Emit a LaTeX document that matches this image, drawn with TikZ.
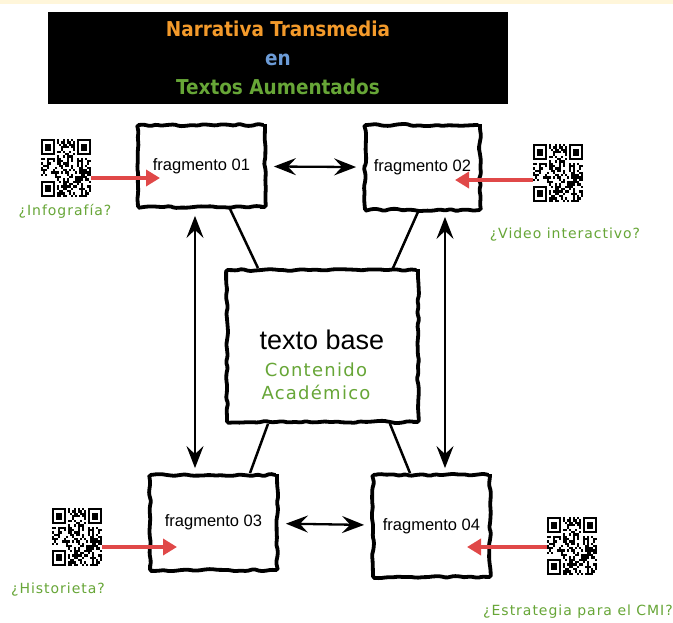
\documentclass[tikz,border=0pt]{standalone}
\usepackage{fontspec}
\setmainfont{Liberation Sans}
\newfontfamily\titlefont{DejaVu Sans Condensed}
\newfontfamily\notefont{DejaVu Sans}[LetterSpace=7]
\usetikzlibrary{arrows.meta,decorations.pathmorphing}

\definecolor{torange}{HTML}{F39A2B}
\definecolor{tblue}{HTML}{6C9BD6}
\definecolor{tgreen}{HTML}{67A637}
\definecolor{qrred}{HTML}{E04848}
\definecolor{cream}{HTML}{FFF6DA}

% one module of the qr pattern
\def\qrw{2.0pt}
\def\qrh{2.32pt}
\newcommand\qrcell[5]{\fill[#5] ([xshift=(#1)*\qrw,yshift=-(#2)*\qrh]path picture bounding box.north west) rectangle ++(#3*\qrw,-#4*\qrh);}

\tikzset{
  sketch/.style={draw, fill=white, line width=3.8pt, rounded corners=1.5pt,
    decorate, decoration={random steps, segment length=6pt, amplitude=1.2pt},
    font=\fontsize{16.5}{19}\selectfont},
  dbl/.style={line width=2.3pt, {Stealth[length=22pt,width=17pt,inset=8pt]}-{Stealth[length=22pt,width=17pt,inset=8pt]}},
  qrarrow/.style={draw=qrred, line width=4.5pt, -{Triangle[length=14pt,width=16pt]}},
  qrcode/.style={minimum width=50pt, minimum height=58pt, inner sep=0pt,
    path picture={
      \pgfmathsetseed{4242}
      \foreach \i in {0,...,24}{\foreach \j in {0,...,24}{
        \pgfmathrandominteger{\r}{0}{1}
        \ifnum\r=1 \qrcell{\i}{\j}{1}{1}{black}\fi}}
      \foreach \a/\b/\c/\d in {0/0/0/0,18/0/17/0,0/18/0/17}{
        \qrcell{\c}{\d}{8}{8}{white}
        \qrcell{\a}{\b}{7}{7}{black}
        \qrcell{\a+1}{\b+1}{5}{5}{white}
        \qrcell{\a+2}{\b+2}{3}{3}{black}}
    }},
  note/.style={text=tgreen, font=\notefont\fontsize{14}{16}\selectfont},
}

\begin{document}
\begin{tikzpicture}[x=1pt,y=-1pt]
  \useasboundingbox (0,0) rectangle (673,623);
  \fill[white] (0,0) rectangle (673,623);
  \fill[cream] (0,0) rectangle (673,4);

  % title
  \node[fill=black, minimum width=460pt, minimum height=92pt, align=center,
    font=\titlefont\bfseries\fontsize{20.5}{29}\selectfont] (title) at (278,58)
    {\textcolor{torange}{Narrativa Transmedia}\\\textcolor{tblue}{en}\\\textcolor{tgreen}{Textos Aumentados}};

  % boxes
  \node[sketch, minimum width=127pt, minimum height=82pt] (frag01) at (201.5,166) {fragmento 01};
  \node[sketch, minimum width=115pt, minimum height=85pt] (frag02) at (422.5,167.5) {fragmento 02};
  \node[sketch, minimum width=191pt, minimum height=152pt] (base) at (322.5,346) {};
  \node[sketch, minimum width=127pt, minimum height=95pt] (frag03) at (213.5,522.5) {fragmento 03};
  \node[sketch, minimum width=117pt, minimum height=102pt] (frag04) at (431.5,526) {fragmento 04};

  \node[font=\fontsize{27}{30}\selectfont] (basetitle) at (322,340) {texto base};
  \node[align=center, text=tgreen, font=\notefont\fontsize{18}{23}\selectfont] (basenote) at (316,381) {Contenido\\Académico};

  % links
  \draw[line width=2.5pt] ([xshift=28.5pt]frag01.south) -- ([xshift=-64.5pt]base.north);
  \draw[line width=2.5pt] ([xshift=-4.5pt]frag02.south) -- ([xshift=70.5pt]base.north);
  \draw[line width=2.5pt] ([xshift=-54.5pt]base.south) -- ([xshift=36.5pt]frag03.north);
  \draw[line width=2.5pt] ([xshift=67.5pt]base.south) -- ([xshift=-21.5pt]frag04.north);

  \draw[dbl, shorten <=7pt, shorten >=7pt] (frag01) -- (frag02);
  \draw[dbl, shorten <=7pt, shorten >=7pt] (frag03) -- (frag04);
  \draw[dbl, shorten <=7pt, shorten >=5pt] ([xshift=-6.5pt]frag01.south) -- ([xshift=-18.5pt]frag03.north);
  \draw[dbl, shorten <=5pt, shorten >=5pt] ([xshift=22.5pt]frag02.south) -- ([xshift=13.5pt]frag04.north);

  % qr codes
  \node[qrcode] (qr01) at (66,168) {};
  \node[qrcode] (qr02) at (558,173) {};
  \node[qrcode] (qr03) at (77,537) {};
  \node[qrcode] (qr04) at (572,546) {};

  \coordinate (tip01) at (160,178);
  \coordinate (tip02) at (455,180);
  \coordinate (tip03) at (177,547);
  \coordinate (tip04) at (467,547);
  \draw[qrarrow] (qr01.east |- tip01) -- (tip01);
  \draw[qrarrow] (qr02.west |- tip02) -- (tip02);
  \draw[qrarrow] (qr03.east |- tip03) -- (tip03);
  \draw[qrarrow] (qr04.west |- tip04) -- (tip04);

  \node[note] (lab01) at (65,211) {¿Infografía?};
  \node[note] (lab02) at (565,235) {¿Video interactivo?};
  \node[note] (lab03) at (58,590) {¿Historieta?};
  \node[note] (lab04) at (578,612) {¿Estrategia para el CMI?};
\end{tikzpicture}
\end{document}
